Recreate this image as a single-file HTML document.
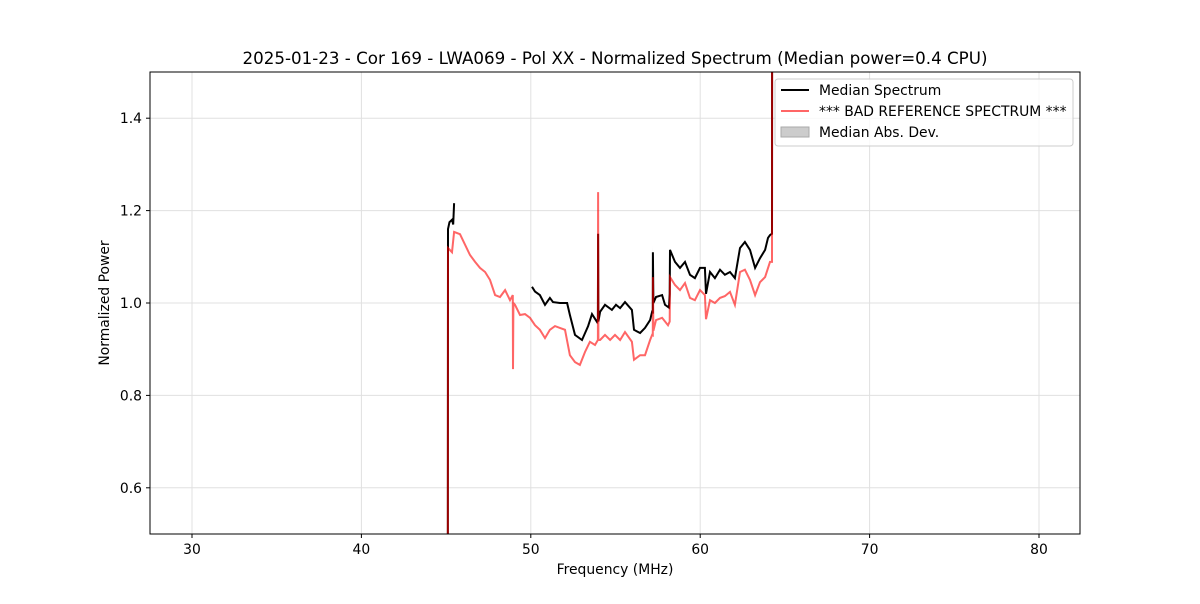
<!DOCTYPE html>
<html><head><meta charset="utf-8"><style>
body{margin:0;background:#fff;font-family:"DejaVu Sans","Liberation Sans",sans-serif}
svg text{font-family:"DejaVu Sans","Liberation Sans",sans-serif}
</style></head><body>
<svg id="c" width="1200" height="600">
<defs><clipPath id="clip"><rect x="150" y="72" width="930" height="462"/></clipPath></defs>
<rect width="1200" height="600" fill="#fff"/>
<text x="615" y="64" text-anchor="middle" font-size="16.7">2025-01-23 - Cor 169 - LWA069 - Pol XX - Normalized Spectrum (Median power=0.4 CPU)</text>
<g id="grid"></g><g id="plot" clip-path="url(#clip)"></g>
<rect x="150" y="72" width="930" height="462" fill="none" stroke="#000" stroke-width="1"/>
<g id="axes"></g>
<text x="615" y="574" text-anchor="middle" font-size="13.9">Frequency (MHz)</text>
<text transform="translate(109,303) rotate(-90)" text-anchor="middle" font-size="13.9">Normalized Power</text>
<g>
<rect x="775" y="79" width="298" height="67" rx="3" fill="#fff" fill-opacity="0.8" stroke="#ccc"/>
<line x1="781" y1="90" x2="809" y2="90" stroke="#000" stroke-width="2"/>
<text x="819" y="95" font-size="13.9">Median Spectrum</text>
<line x1="781" y1="111" x2="809" y2="111" stroke="#ff6666" stroke-width="2"/>
<text x="819" y="116" font-size="13.9">*** BAD REFERENCE SPECTRUM ***</text>
<rect x="781" y="127" width="28" height="10" fill="#ccc" stroke="#aaa"/>
<text x="819" y="137" font-size="13.9">Median Abs. Dev.</text>
</g>
</svg>
<script>
const xTicks=[30,40,50,60,70,80];
const yTicks=[0.6,0.8,1.0,1.2,1.4];
const medFreq1=[45.1,45.11,45.2,45.35,45.42,45.47];
const medVal1=[0.3,1.16,1.175,1.18,1.17,1.216];
const medFreq2=[50.07,50.25,50.54,50.84,51.13,51.31,51.72,52.14,52.31,52.61,53.02,53.38,53.61,53.91,53.96,53.97,53.99,54.09,54.38,54.79,55.03,55.27,55.56,55.97,56.09,56.45,56.74,57.04,57.16,57.2,57.21,57.24,57.39,57.75,57.92,58.16,58.2,58.22,58.51,58.81,59.1,59.4,59.69,59.99,60.28,60.34,60.58,60.87,61.17,61.46,61.76,62.05,62.35,62.64,62.94,63.24,63.53,63.83,64.0,64.12,64.24,64.25];
const medVal2=[1.035,1.025,1.017,0.996,1.011,1.002,1.0,1.0,0.974,0.931,0.92,0.95,0.976,0.959,0.965,1.15,0.96,0.981,0.996,0.985,0.996,0.989,1.002,0.985,0.942,0.935,0.946,0.963,0.981,0.98,1.11,1.0,1.013,1.017,0.996,0.99,1.02,1.115,1.089,1.076,1.089,1.061,1.054,1.076,1.076,1.02,1.067,1.054,1.072,1.061,1.067,1.054,1.119,1.132,1.115,1.076,1.097,1.115,1.141,1.147,1.15,2.0];
const refFreq=[45.1,45.11,45.35,45.47,45.82,46.12,46.41,46.71,47.0,47.3,47.59,47.89,48.18,48.48,48.77,48.94,48.95,48.97,49.07,49.36,49.66,49.95,50.25,50.54,50.84,51.13,51.43,51.72,52.02,52.31,52.61,52.9,53.2,53.49,53.79,53.96,53.97,53.99,54.09,54.38,54.68,54.97,55.27,55.56,55.97,56.09,56.45,56.74,57.04,57.16,57.2,57.21,57.24,57.39,57.75,58.1,58.2,58.22,58.51,58.81,59.1,59.4,59.69,59.99,60.28,60.34,60.58,60.87,61.17,61.46,61.76,62.05,62.35,62.64,62.94,63.24,63.53,63.83,64.12,64.24,64.25];
const refVal=[0.3,1.119,1.11,1.154,1.149,1.126,1.104,1.089,1.076,1.067,1.05,1.017,1.013,1.028,1.006,1.017,0.857,1.0,0.996,0.974,0.976,0.968,0.952,0.942,0.924,0.942,0.95,0.946,0.942,0.887,0.872,0.866,0.894,0.916,0.909,0.92,1.24,0.92,0.92,0.931,0.92,0.931,0.92,0.937,0.916,0.877,0.887,0.887,0.92,0.931,0.93,1.056,0.94,0.963,0.968,0.952,0.96,1.056,1.039,1.028,1.043,1.011,1.006,1.028,1.017,0.965,1.006,1.0,1.011,1.015,1.024,0.996,1.067,1.072,1.05,1.017,1.045,1.056,1.089,1.089,2.0];
const madFreq=[57.19,57.21,57.23];
const madHi=[1.0,1.125,1.0];
const X=f=>192+(f-30)*16.94;
const Y=v=>534-(v-0.5)*462;
const NS='http://www.w3.org/2000/svg';
function mk(t,a,p){const e=document.createElementNS(NS,t);for(const k in a)e.setAttribute(k,a[k]);p.appendChild(e);return e;}
const grid=document.getElementById('grid'),axes=document.getElementById('axes'),plot=document.getElementById('plot');
xTicks.forEach(t=>{const x=X(t);
const g=mk('line',{x1:x,x2:x,y1:72,y2:534,stroke:'#e0e0e0'},grid);


mk('line',{x1:x,x2:x,y1:534,y2:538,stroke:'#000'},axes);
const tx=mk('text',{x:x,y:554,'text-anchor':'middle','font-size':13.9},axes);tx.textContent=t;

});
yTicks.forEach(t=>{const y=Y(t);
const g=mk('line',{x1:150,x2:1080,y1:y,y2:y,stroke:'#e0e0e0'},grid);


mk('line',{x1:146,x2:150,y1:y,y2:y,stroke:'#000'},axes);
const tx=mk('text',{x:142,y:y+5,'text-anchor':'end','font-size':13.9},axes);tx.textContent=t.toFixed(1);

});
const pts=(F,V)=>F.map((f,i)=>X(f).toFixed(1)+','+Y(V[i]).toFixed(1)).join(' ');
const mad=mk('polygon',{points:pts(madFreq,madHi)+' '+X(57.23)+','+Y(1.0)+' '+X(57.19)+','+Y(1.0),fill:'#ccc'},plot);


const m1=mk('polyline',{points:pts(medFreq1,medVal1),fill:'none',stroke:'#000','stroke-width':2},plot);


const m2=mk('polyline',{points:pts(medFreq2,medVal2),fill:'none',stroke:'#000','stroke-width':2},plot);


const r=mk('polyline',{points:pts(refFreq,refVal),fill:'none',stroke:'#ff0000','stroke-opacity':0.6,'stroke-width':2},plot);


</script>
</body></html>
